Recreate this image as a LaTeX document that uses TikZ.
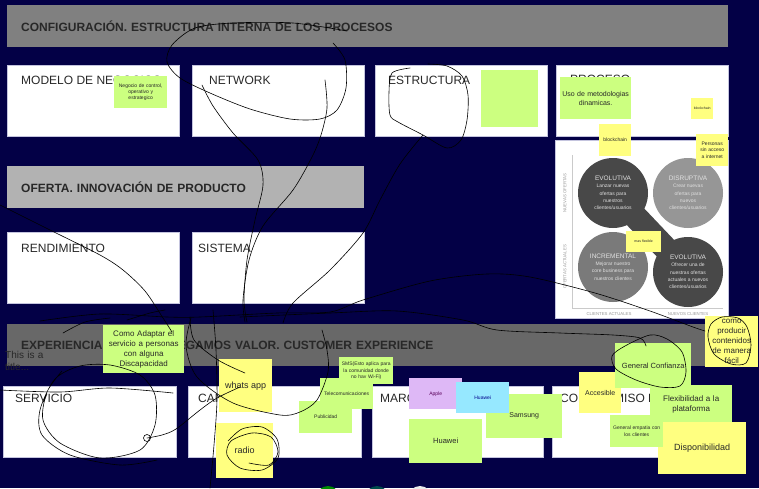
\documentclass[tikz,border=0pt]{standalone}
\usepackage{fontspec}
\setmainfont{Liberation Sans}
\usetikzlibrary{positioning}
\definecolor{navy}{RGB}{3,0,70}
\definecolor{greyA}{RGB}{128,128,128}
\definecolor{greyB}{RGB}{178,178,178}
\definecolor{greyC}{RGB}{104,104,104}
\definecolor{edge}{RGB}{196,196,222}
\definecolor{lime}{RGB}{204,255,128}
\definecolor{lemon}{RGB}{255,255,128}
\definecolor{lilac}{RGB}{222,184,246}
\definecolor{sky}{RGB}{150,232,255}
\definecolor{ink}{RGB}{40,40,40}
\definecolor{dk}{RGB}{72,72,72}
\definecolor{md}{RGB}{122,122,122}
\definecolor{lt}{RGB}{150,150,150}

\begin{document}
\begin{tikzpicture}[x=1pt,y=-1pt,
banner/.style={anchor=north west,minimum height=42pt,inner xsep=14pt,inner ysep=0pt,align=left,text=ink,font=\bfseries\fontsize{12}{14}\selectfont},
box/.style={draw=edge,fill=white,anchor=north west,minimum width=172pt,minimum height=71pt,inner sep=0pt},
lbl/.style={anchor=west,inner sep=0pt,text=ink,font=\fontsize{12}{14}\selectfont},
note/.style={anchor=north west,inner sep=0pt,align=center,text=ink},
green note/.style={note,fill=lime},
yellow note/.style={note,fill=lemon},
t3/.style={font=\fontsize{3.5}{4.2}\selectfont},
t5/.style={font=\fontsize{5}{6.2}\selectfont},
t7/.style={font=\fontsize{7}{9}\selectfont},
t8/.style={font=\fontsize{8}{10}\selectfont},
t9/.style={font=\fontsize{9}{11}\selectfont},
quad/.style={circle,minimum size=70pt,inner sep=0pt,align=center,text=white!88!black,font=\fontsize{5}{7.3}\selectfont},
axis/.style={inner sep=0pt,text=lt,font=\fontsize{4.3}{5}\selectfont},
scrib/.style={line width=.6pt,black,line cap=round,line join=round}]
\fill[navy] (0,0) rectangle (759,488);
\useasboundingbox (0,0) rectangle (759,488);

% configuracion
\node[banner,fill=greyA,text width=693pt] (b1) at (7,5) {CONFIGURACIÓN. ESTRUCTURA INTERNA DE LOS PROCESOS};
\node[box] (modelo) at (7,65) {};
\node[box] (network) at (192,65) {};
\node[box] (estruc) at (375,65) {};
\node[box] (proceso) at (556,65) {};
\node[lbl] (lmodelo) at (21,80) {MODELO DE NEGOCIOS};
\node[lbl] (lnetwork) at (209,80) {NETWORK};
\node[lbl] (lestruc) at (388,80) {ESTRUCTURA};
\node[lbl] (lproceso) at (570,79) {PROCESO};

% oferta
\node[banner,fill=greyB,text width=329pt] (b2) at (7,166) {OFERTA. INNOVACIÓN DE PRODUCTO};
\node[box] (rend) at (7,232) {};
\node[box] (sist) at (192,232) {};
\node[lbl] (lrend) at (21,248) {RENDIMIENTO};
\node[lbl] (lsist) at (198,248) {SISTEMA};

% matriz
\node[box,minimum width=173pt,minimum height=178pt] (panel) at (555,140) {};
\draw[lt!50!white,line width=.8pt] (572,155) -- (572,308) -- (723,308);
\draw[dk,line width=24pt] (613,193) -- (688,272);
\node[quad,fill=dk] (evo1) at (613,193) {{\fontsize{6.5}{8}\selectfont EVOLUTIVA}\\Lanzar nuevas\\ofertas para\\nuestros\\clientes/usuarios};
\node[quad,fill=lt] (disr) at (688,193) {{\fontsize{6.5}{8}\selectfont DISRUPTIVA}\\Crear nuevas\\ofertas para\\nuevos\\clientes/usuarios};
\node[quad,fill=md] (incr) at (613,267) {{\fontsize{6.5}{8}\selectfont INCREMENTAL}\\Mejorar nuestro\\core business para\\nuestros clientes};
\node[quad,fill=dk] (evo2) at (688,272) {{\fontsize{6.5}{8}\selectfont EVOLUTIVA}\\Ofrecer una de\\nuestras ofertas\\actuales a nuevos\\clientes/usuarios};
\node[axis,rotate=90] (aoft1) at (565,193) {NUEVAS OFERTAS};
\node[axis,rotate=90] (aoft2) at (565,267) {OFERTAS ACTUALES};
\node[axis] (acli1) at (609,314) {CLIENTES ACTUALES};
\node[axis] (acli2) at (688,314) {NUEVOS CLIENTES};

% experiencia
\node[banner,fill=greyC,text width=693pt] (b3) at (7,324) {EXPERIENCIA. COMO AGREGAMOS VALOR. CUSTOMER EXPERIENCE};
\node[box,minimum width=173pt] (serv) at (3,386) {};
\node[box,minimum width=173pt] (canal) at (188,386) {};
\node[box,minimum width=171pt] (marca) at (372,386) {};
\node[box,minimum width=173pt] (comp) at (552,386) {};
\node[lbl] (lserv) at (15,398) {SERVICIO};
\node[lbl] (lcanal) at (198,398) {CANAL};
\node[lbl] (lmarca) at (380,398) {MARCA};
\node[lbl] (lcomp) at (560,398) {COMPROMISO DE};
\node[anchor=north west,inner sep=0pt,text width=60pt,align=left,text=ink,font=\fontsize{10}{12.5}\selectfont] (titulo) at (5,351) {This is a\\title...};

% notas
\node[green note,t5,minimum width=53pt,minimum height=32pt,text width=50pt] (negocio) at (114,76) {Negocio de control,\\operativo y\\estrategico};
\node[green note,minimum width=57pt,minimum height=57pt] (vacia) at (481,70) {};
\node[green note,t7,minimum width=71pt,minimum height=42pt,text width=68pt] (metodo) at (560,77) {Uso de metodologias\\dinamicas.};
\node[yellow note,t3,minimum width=22pt,minimum height=21pt] (block1) at (691,98) {blockchain};
\node[yellow note,t5,minimum width=32pt,minimum height=32pt] (block2) at (599,124) {blockchain};
\node[yellow note,t5,minimum width=32pt,minimum height=32pt,text width=30pt] (personas) at (696,134) {Personas\\sin acceso\\a internet};
\node[yellow note,t3,minimum width=35pt,minimum height=21pt] (flexible) at (626,231) {mas flexible};
\node[green note,t8,minimum width=81pt,minimum height=48pt,text width=78pt] (adaptar) at (103,325) {Como Adaptar el\\servicio a personas\\con alguna\\Discapacidad};
\node[yellow note,t9,minimum width=53pt,minimum height=53pt] (whats) at (219,359) {whats app};
\node[yellow note,t9,minimum width=57pt,minimum height=55pt] (radio) at (216,423) {radio};
\node[green note,t5,minimum width=54pt,minimum height=27pt,text width=53pt] (sms) at (339,357) {SMS(Esto aplica para\\la comunidad donde\\no hay Wi-Fi)};
\node[green note,t5,minimum width=53pt,minimum height=31pt] (telecom) at (320,378) {Telecomunicaciones};
\node[green note,t5,minimum width=53pt,minimum height=32pt] (publi) at (299,401) {Publicidad};
\node[note,fill=lilac,t5,text=violet!70!black,minimum width=53pt,minimum height=31pt] (apple) at (409,378) {Apple};
\node[green note,t7,minimum width=76pt,minimum height=44pt] (samsung) at (486,394) {Samsung};
\node[note,fill=sky,t5,text=blue!55!black,minimum width=53pt,minimum height=31pt] (huawei1) at (456,382) {Huawei};
\node[green note,t7,font=\fontsize{7.5}{9}\selectfont,minimum width=73pt,minimum height=44pt] (huawei2) at (409,419) {Huawei};
\node[yellow note,t7,minimum width=42pt,minimum height=41pt] (accesible) at (579,372) {Accesible};
\node[green note,font=\fontsize{7.5}{9}\selectfont,minimum width=76pt,minimum height=45pt] (confianza) at (615,343) {General Confianza};
\node[yellow note,t8,minimum width=53pt,minimum height=51pt,text width=52pt] (producir) at (705,316) {como\\producir\\contenidos\\de manera\\fácil};
\node[green note,t8,minimum width=82pt,minimum height=38pt,text width=80pt] (flexib) at (650,385) {Flexibilidad a la\\plataforma};
\node[yellow note,t9,minimum width=88pt,minimum height=52pt] (disponib) at (658,422) {Disponibilidad};
\node[green note,t5,minimum width=53pt,minimum height=32pt,text width=52pt] (empatia) at (610,415) {General empatia con\\los clientes};

% usuarios
\begin{scope}
\clip (0,0) rectangle (759,488);
\fill[green!55!black] (328,498) circle (12);
\fill[teal!60!black] (377,498) circle (12);
\fill[white!80!lt] (420,498) circle (12);
\end{scope}

% trazos a mano
\draw[scrib] plot[smooth] coordinates {(347,31) (293,23) (233,23) (195,28) (172,45) (167,62) (180,78) (210,93) (250,109) (290,119) (320,119) (337,110) (346,88) (345,60) (333,43)};
\draw[scrib] plot[smooth] coordinates {(325,80) (327,108) (321,135) (312,157) (293,190) (263,226) (249,260) (243,300) (245,322)};
\draw[scrib] plot[smooth] coordinates {(202,85) (213,106) (233,133) (258,160) (263,185) (255,220) (247,260) (244,300) (247,322)};
\draw[scrib] plot[smooth] coordinates {(410,68) (392,73) (389,92) (390,115) (398,122) (423,135) (447,148) (461,140) (467,120) (468,95) (462,76) (447,66) (428,64)};
\draw[scrib] plot[smooth] coordinates {(423,135) (400,164) (380,200) (363,233) (330,270) (293,303) (283,323)};
\draw[scrib] plot[smooth] coordinates {(0,205) (50,230) (100,255) (123,270) (145,291) (163,318) (172,332)};
\draw[scrib] plot[smooth] coordinates {(40,321) (100,314) (167,317) (200,317) (277,313) (330,312) (363,300) (430,281) (487,274) (530,277) (595,293) (650,311) (693,327) (705,331)};
\draw[scrib] plot[smooth] coordinates {(240,317) (330,313) (397,311) (463,320) (497,330) (560,333) (613,335) (640,338) (646,346)};
\draw[scrib] plot[smooth cycle] coordinates {(650,335) (625,346) (612,356) (616,369) (636,380) (660,387) (680,386) (686,372) (682,352) (667,339)};
\draw[scrib] plot[smooth cycle] coordinates {(738,318) (722,317) (711,324) (708,337) (714,354) (731,364) (746,363) (751,345) (747,327)};
\draw[scrib] plot[smooth] coordinates {(228,441) (242,429) (262,427) (277,439) (278,458) (262,470) (240,468) (227,455) (231,441) (252,433) (271,437) (278,452) (269,465) (249,463)};
\draw[scrib] plot[smooth] coordinates {(62,371) (47,392) (43,420) (60,443) (100,458) (140,450) (155,425) (155,395) (140,375) (110,365) (80,366) (55,379) (40,410) (42,435) (70,455) (120,465) (157,460)};
\draw[scrib] plot[smooth] coordinates {(0,390) (60,392) (110,388) (173,393)};
\draw[scrib] plot[smooth] coordinates {(147,438) (162,435) (176,429) (200,410) (217,398) (240,387)};
\draw[scrib] (147,438) circle (3.5);
\draw[scrib] plot[smooth] coordinates {(245,373) (218,360) (194,340) (190,317)};
\draw[scrib] plot[smooth] coordinates {(191,318) (186,346) (197,377) (233,403) (280,415) (300,412) (317,400) (328,372) (327,350) (322,330)};
\draw[scrib] plot[smooth] coordinates {(213,310) (216,350) (217,400) (214,445) (210,488)};
\draw[scrib] plot[smooth] coordinates {(63,333) (85,322) (110,318)};
\draw[scrib] plot[smooth] coordinates {(127,320) (150,313) (165,310)};
\end{tikzpicture}
\end{document}
